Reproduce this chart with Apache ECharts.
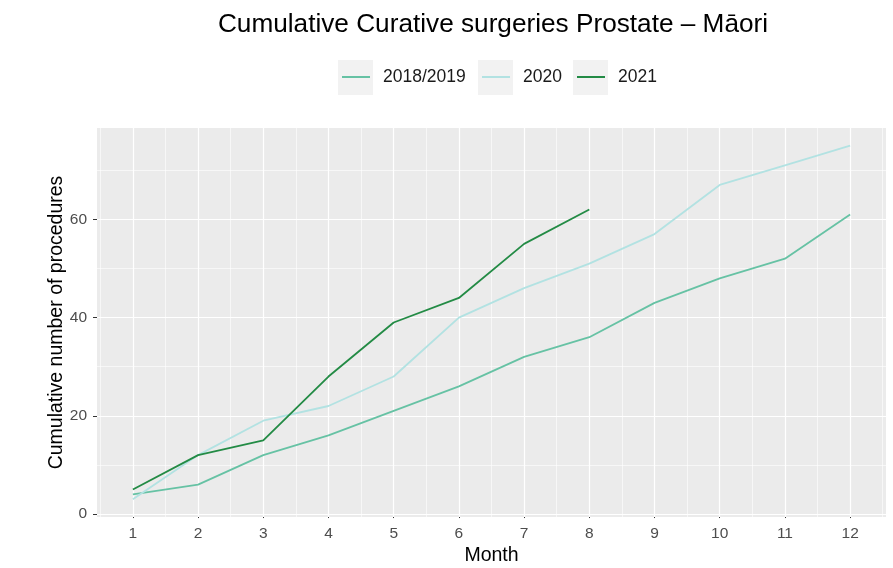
<!DOCTYPE html>
<html>
<head>
<meta charset="utf-8">
<script src="https://cdn.jsdelivr.net/npm/echarts@6/dist/echarts.min.js"></script>
<style>
  html, body { margin: 0; padding: 0; background: #fff; }
  #chart { width: 893px; height: 568px; }
</style>
</head>
<body>
<div id="chart"></div>
<script>
// cumulative procedures per month
const months = [1, 2, 3, 4, 5, 6, 7, 8, 9, 10, 11, 12]
const seriesNames = ['2018/2019', '2020', '2021']
const values2018 = [4, 6, 12, 16, 21, 26, 32, 36, 43, 48, 52, 61]
const values2020 = [3, 12, 19, 22, 28, 40, 46, 51, 57, 67, 71, 75]
const values2021 = [5, 12, 15, 28, 39, 44, 55, 62]

const yTicks = [0, 20, 40, 60]
const yMinor = [10, 30, 50, 70]
const xMinor = [0.5, 1.5, 2.5, 3.5, 4.5, 5.5, 6.5, 7.5, 8.5, 9.5, 10.5, 11.5, 12.5]

const colors = ['#66c2a4', '#b2e2e2', '#238b45']
const FONT = 'Liberation Sans, Arial, sans-serif'

function pairs (vals) {
  return vals.map((v, i) => [months[i], v])
}

function gridLines () {
  const major = { color: '#ffffff', width: 1.2, type: 'solid' }
  const minor = { color: '#ffffff', width: 0.6, type: 'solid' }
  let data = []
  for (let v of months) data.push({ xAxis: v, lineStyle: major })
  for (let v of xMinor) data.push({ xAxis: v, lineStyle: minor })
  for (let v of yTicks) data.push({ yAxis: v, lineStyle: major })
  for (let v of yMinor) data.push({ yAxis: v, lineStyle: minor })
  return data
}

function legendAt (name, left) {
  return {
    data: [name],
    left: left,
    top: 68,
    padding: 0,
    itemWidth: 28,
    itemHeight: 2,
    icon: 'rect',
    textStyle: { fontFamily: FONT, fontSize: 17.5, color: '#1a1a1a', padding: [0, 0, 0, 8] }
  }
}

const legendBoxes = [338, 478, 573]

const option = {
  animation: false,
  backgroundColor: '#ffffff',
  title: {
    text: 'Cumulative Curative surgeries Prostate – Māori',
    left: 488,
    top: 7,
    textAlign: 'center',
    textStyle: { fontFamily: FONT, fontSize: 26.2, fontWeight: 'normal', color: '#000' }
  },
  legend: [
    legendAt(seriesNames[0], 342),
    legendAt(seriesNames[1], 482),
    legendAt(seriesNames[2], 577)
  ],
  graphic: legendBoxes.map(x => ({
    type: 'rect',
    z: -1,
    silent: true,
    shape: { x: x, y: 60, width: 35, height: 35 },
    style: { fill: '#f2f2f2' }
  })),
  grid: {
    left: 97,
    right: 7,
    top: 128,
    bottom: 51,
    outerBoundsMode: 'none',
    containLabel: false,
    show: true,
    backgroundColor: '#ebebeb',
    borderWidth: 0
  },
  xAxis: {
    type: 'value',
    min: 0.45,
    max: 12.55,
    name: 'Month',
    nameLocation: 'middle',
    nameGap: 29,
    nameMoveOverlap: false,
    nameTextStyle: { fontFamily: FONT, fontSize: 19.5, color: '#000' },
    axisLine: { show: false },
    splitLine: { show: false },
    axisTick: { show: true, customValues: months, length: 4, lineStyle: { color: '#333', width: 1 } },
    axisLabel: { customValues: months, fontFamily: FONT, fontSize: 15.5, color: '#4d4d4d', margin: 9 }
  },
  yAxis: {
    type: 'value',
    min: -0.6,
    max: 78.6,
    name: 'Cumulative number of procedures',
    nameLocation: 'middle',
    nameGap: 30,
    nameMoveOverlap: false,
    nameTextStyle: { fontFamily: FONT, fontSize: 19.5, color: '#000' },
    axisLine: { show: false },
    splitLine: { show: false },
    axisTick: { show: true, customValues: yTicks, length: 4, lineStyle: { color: '#333', width: 1 } },
    axisLabel: { customValues: yTicks, fontFamily: FONT, fontSize: 15.5, color: '#4d4d4d', margin: 10 }
  },
  series: [
    {
      name: '_grid',
      type: 'line',
      data: [],
      silent: true,
      markLine: {
        silent: true,
        z: 1,
        symbol: 'none',
        label: { show: false },
        emphasis: { disabled: true },
        animation: false,
        data: gridLines()
      }
    },
    {
      name: seriesNames[0],
      type: 'line',
      z: 3,
      data: pairs(values2018),
      showSymbol: false,
      color: colors[0],
      lineStyle: { width: 1.8, color: colors[0] }
    },
    {
      name: seriesNames[1],
      type: 'line',
      z: 3,
      data: pairs(values2020),
      showSymbol: false,
      color: colors[1],
      lineStyle: { width: 1.8, color: colors[1] }
    },
    {
      name: seriesNames[2],
      type: 'line',
      z: 3,
      data: pairs(values2021),
      showSymbol: false,
      color: colors[2],
      lineStyle: { width: 1.8, color: colors[2] }
    }
  ]
}

const chart = echarts.init(document.getElementById('chart'))
chart.setOption(option)
</script>
</body>
</html>
